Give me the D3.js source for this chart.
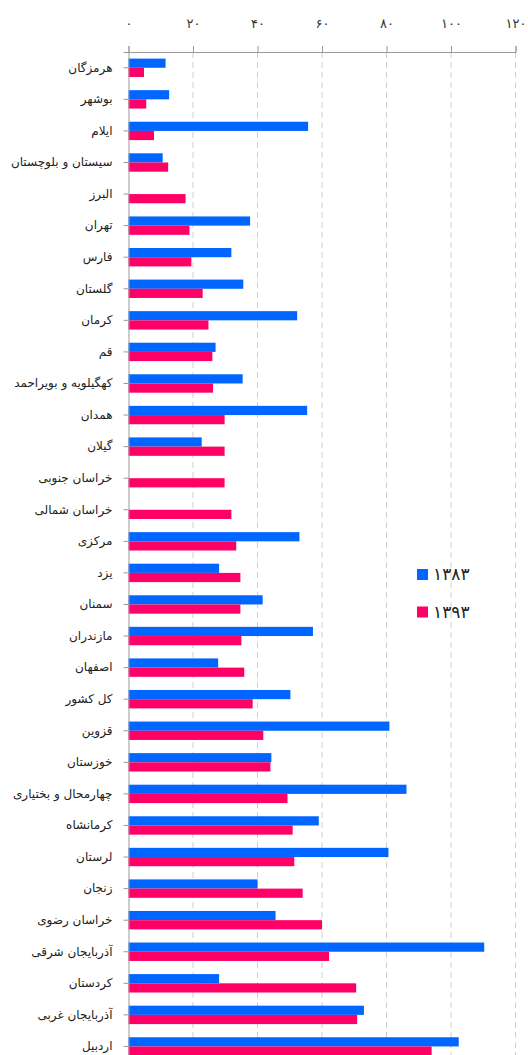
<!DOCTYPE html>
<html>
<head>
<meta charset="utf-8">
<script src="https://cdn.jsdelivr.net/npm/d3@7"></script>
<style>
  body { margin: 0; background: #fff; }
  svg { display: block; }
</style>
</head>
<body>
<div id="chart"></div>
<script>
// provinces, top to bottom
var provinces = ["هرمزگان", "بوشهر", "ایلام", "سیستان و بلوچستان", "البرز", "تهران", "فارس", "گلستان",
  "کرمان", "قم", "کهگیلویه و بویراحمد", "همدان", "گیلان", "خراسان جنوبی", "خراسان شمالی", "مرکزی",
  "یزد", "سمنان", "مازندران", "اصفهان", "کل کشور", "قزوین", "خوزستان", "چهارمحال و بختیاری",
  "کرمانشاه", "لرستان", "زنجان", "خراسان رضوی", "آذربایجان شرقی", "کردستان", "آذربایجان غربی", "اردبیل"];

var years = ["۱۳۸۳", "۱۳۹۳"];

var values1383 = [11.5, 12.6, 55.7, 10.6, null, 37.7, 31.9, 35.6, 52.3, 27.0, 35.4, 55.4, 22.7, null, null, 53.0,
  28.1, 41.6, 57.2, 27.8, 50.2, 80.9, 44.3, 86.2, 59.0, 80.6, 40.0, 45.6, 110.3, 28.1, 73.0, 102.4];

var values1393 = [4.8, 5.5, 7.9, 12.3, 17.7, 18.9, 19.5, 23.0, 24.8, 26.0, 26.2, 29.8, 29.8, 29.8, 31.9, 33.4,
  34.7, 34.7, 35.0, 35.9, 38.5, 41.8, 44.0, 49.3, 50.9, 51.4, 54.0, 60.0, 62.2, 70.6, 70.9, 94.0];

var xTicks = [0, 20, 40, 60, 80, 100, 120];

var colors = ["#0066ff", "#ff0066"];

function init() {
  var width = 528, height = 1055;
  var left = 128.5, right = 515.5, top = 52;

  var faDigits = "۰۱۲۳۴۵۶۷۸۹";
  function toFa(n) {
    return String(n).replace(/\d/g, function(d) { return faDigits[+d]; });
  }

  var svg = d3.select("#chart").append("svg")
    .attr("width", width)
    .attr("height", height);

  var x = d3.scaleLinear().domain([0, 120]).range([left, right]);

  var y = d3.scaleBand()
    .domain(provinces)
    .range([top, top + 32 * 31.57]);

  var barH = 9.2;
  var inner = d3.scaleBand()
    .domain(years)
    .range([y.bandwidth() / 2 - barH, y.bandwidth() / 2 + barH]);

  // dashed grid
  svg.append("g")
    .selectAll("line")
    .data(xTicks.slice(1))
    .enter()
    .append("line")
    .attr("x1", function(d) { return x(d); })
    .attr("x2", function(d) { return x(d); })
    .attr("y1", top)
    .attr("y2", height)
    .attr("stroke", "#cfcfcf")
    .attr("stroke-dasharray", "6,4");

  // top axis
  var xAxis = d3.axisTop(x)
    .tickValues(xTicks)
    .tickSize(6)
    .tickFormat(toFa);

  var gx = svg.append("g")
    .attr("transform", "translate(0," + top + ")")
    .call(xAxis);
  gx.select(".domain").attr("stroke", "#9a9a9a");
  gx.selectAll(".tick line").attr("stroke", "#9a9a9a");
  gx.selectAll(".tick text")
    .attr("y", -29)
    .attr("dy", "0.35em")
    .attr("fill", "#333")
    .attr("font-family", "DejaVu Sans, sans-serif")
    .attr("font-size", "13px");

  // bars
  var rows = provinces.map(function(p, i) {
    return { name: p, vals: [values1383[i], values1393[i]] };
  });

  var groups = svg.append("g")
    .selectAll("g")
    .data(rows)
    .enter()
    .append("g")
    .attr("transform", function(d) { return "translate(0," + y(d.name) + ")"; });

  groups.selectAll("rect")
    .data(function(d) {
      return d.vals.map(function(v, j) { return { year: years[j], v: v, j: j }; })
        .filter(function(e) { return e.v != null; });
    })
    .enter()
    .append("rect")
    .attr("x", x(0))
    .attr("y", function(d) { return inner(d.year); })
    .attr("width", function(d) { return x(d.v) - x(0); })
    .attr("height", inner.bandwidth())
    .attr("fill", function(d) { return colors[d.j]; });

  // left axis
  var yAxis = d3.axisLeft(y).tickSize(5).tickPadding(11);
  var gy = svg.append("g")
    .attr("transform", "translate(" + x(0) + ",0)")
    .call(yAxis);
  gy.select(".domain").attr("stroke", "#9a9a9a");
  gy.selectAll(".tick line").attr("stroke", "#9a9a9a");
  gy.selectAll(".tick text")
    .attr("fill", "#222")
    .attr("font-family", "DejaVu Sans, sans-serif")
    .attr("font-size", "12px");

  // legend
  var legend = svg.append("g")
    .selectAll("g")
    .data(years)
    .enter()
    .append("g")
    .attr("transform", function(d, i) { return "translate(417," + (569 + i * 37.5) + ")"; });

  legend.append("rect")
    .attr("width", 11)
    .attr("height", 11)
    .attr("fill", function(d, i) { return colors[i]; });

  legend.append("text")
    .attr("x", 16)
    .attr("y", 5.5)
    .attr("dy", "0.35em")
    .attr("fill", "#222")
    .attr("font-family", "DejaVu Sans, sans-serif")
    .attr("font-size", "17px")
    .text(function(d) { return d; });
}
window.onload = init;
</script>
</body>
</html>
